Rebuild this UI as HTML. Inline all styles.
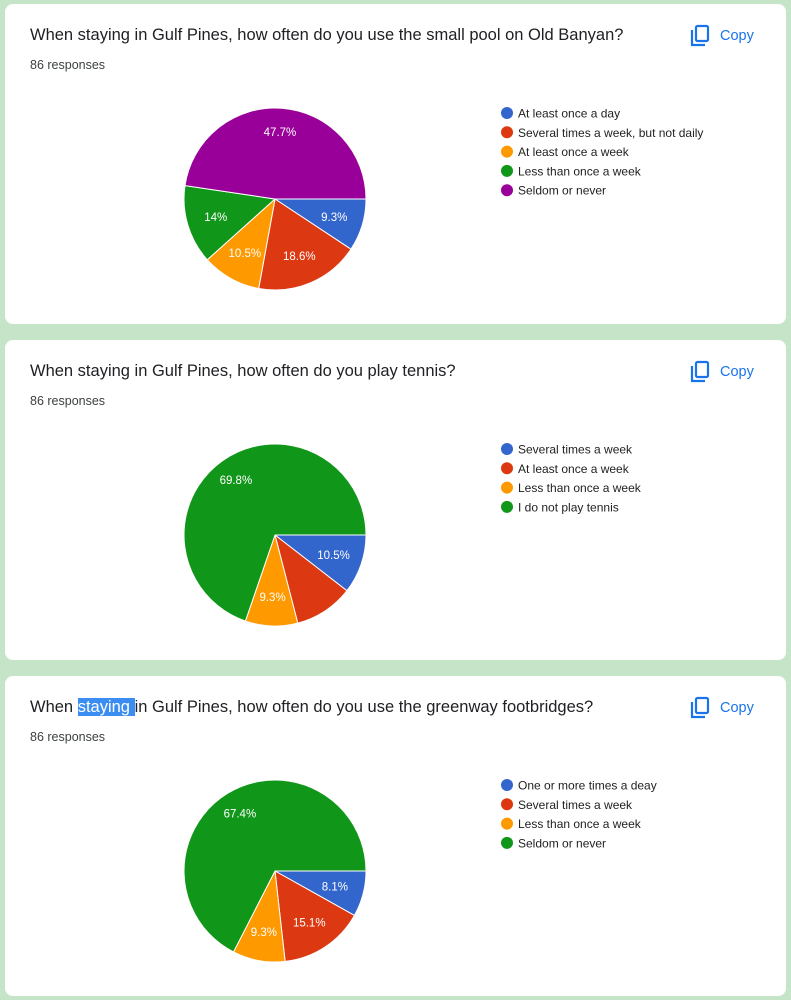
<!DOCTYPE html>
<html><head><meta charset="utf-8"><style>
body{margin:0;width:791px;height:1000px;background:#c6e5c8;font-family:"Liberation Sans",Arial,sans-serif;position:relative;overflow:hidden}
.card{position:absolute;left:5px;width:781px;height:320px;background:#fff;border-radius:8px}
.title{position:absolute;left:25px;top:22px;font-size:16.5px;color:#202124}
.resp{position:absolute;left:25px;top:54px;font-size:12.5px;color:#3c4043}
.copy{position:absolute;left:685px;top:20px;color:#1a73e8;font-size:14.5px;display:flex;align-items:center;gap:10px}
svg.chart{position:absolute;left:0;top:0}
.hl{background:#3b8df2;color:#fff}
</style></head><body>
<div class="card" style="top:4px">
<div class="title">When staying in Gulf Pines, how often do you use the small pool on Old Banyan?</div>
<div class="resp">86 responses</div>
<div class="copy"><svg width="20" height="24" viewBox="0 0 20 24"><path d="M2 6v15h13" fill="none" stroke="#1a73e8" stroke-width="2.2"/><rect x="6" y="2" width="12" height="15" rx="1.5" fill="none" stroke="#1a73e8" stroke-width="2.2"/></svg>Copy</div>
<svg class="chart" id="c0" width="781" height="320"></svg>
</div>
<div class="card" style="top:340px">
<div class="title">When staying in Gulf Pines, how often do you play tennis?</div>
<div class="resp">86 responses</div>
<div class="copy"><svg width="20" height="24" viewBox="0 0 20 24"><path d="M2 6v15h13" fill="none" stroke="#1a73e8" stroke-width="2.2"/><rect x="6" y="2" width="12" height="15" rx="1.5" fill="none" stroke="#1a73e8" stroke-width="2.2"/></svg>Copy</div>
<svg class="chart" id="c1" width="781" height="320"></svg>
</div>
<div class="card" style="top:676px">
<div class="title">When <span class="hl">staying </span>in Gulf Pines, how often do you use the greenway footbridges?</div>
<div class="resp">86 responses</div>
<div class="copy"><svg width="20" height="24" viewBox="0 0 20 24"><path d="M2 6v15h13" fill="none" stroke="#1a73e8" stroke-width="2.2"/><rect x="6" y="2" width="12" height="15" rx="1.5" fill="none" stroke="#1a73e8" stroke-width="2.2"/></svg>Copy</div>
<svg class="chart" id="c2" width="781" height="320"></svg>
</div>
<script>
const colors=["#3366cc","#dc3912","#ff9900","#109618","#990099"];
const poolCategories=["At least once a day","Several times a week, but not daily","At least once a week","Less than once a week","Seldom or never"];
const poolValues=[9.3,18.6,10.5,14,47.7];
const tennisCategories=["Several times a week","At least once a week","Less than once a week","I do not play tennis"];
const tennisValues=[10.5,10.5,9.3,69.8];
const tennisShowLabel=[true,false,true,true];
const bridgeCategories=["One or more times a deay","Several times a week","Less than once a week","Seldom or never"];
const bridgeValues=[8.1,15.1,9.3,67.4];
const NS="http://www.w3.org/2000/svg";
function draw(id,cats,vals,show){
  const svg=document.getElementById(id);
  const cx=270,cy=195,r=91;
  const total=vals.reduce((a,b)=>a+b,0);
  let a0=0;
  vals.forEach((v,i)=>{
    const a1=a0+v/total*2*Math.PI;
    const x0=cx+r*Math.cos(a0),y0=cy+r*Math.sin(a0),x1=cx+r*Math.cos(a1),y1=cy+r*Math.sin(a1);
    const p=document.createElementNS(NS,"path");
    p.setAttribute("d",`M${cx},${cy}L${x0},${y0}A${r},${r} 0 ${a1-a0>Math.PI?1:0} 1 ${x1},${y1}Z`);
    p.setAttribute("fill",colors[i]);p.setAttribute("stroke","#fff");p.setAttribute("stroke-width","1");
    
    
    svg.appendChild(p);
    if(!show||show[i]){
      const m=(a0+a1)/2,k=v>40?0.74:0.68;
      const t=document.createElementNS(NS,"text");
      t.setAttribute("x",cx+r*k*Math.cos(m));t.setAttribute("y",cy+r*k*Math.sin(m)+4);
      t.setAttribute("text-anchor","middle");t.setAttribute("fill","#fff");t.setAttribute("font-size","11.5");
      t.textContent=v+"%";
      
      
      svg.appendChild(t);
    }
    a0=a1;
  });
  cats.forEach((c,i)=>{
    const y=109+i*19.3;
    const d=document.createElementNS(NS,"circle");
    d.setAttribute("cx",502);d.setAttribute("cy",y);d.setAttribute("r",6);d.setAttribute("fill",colors[i]);
    
    
    svg.appendChild(d);
    const t=document.createElementNS(NS,"text");
    t.setAttribute("x",513);t.setAttribute("y",y+4.5);t.setAttribute("font-size","12");t.setAttribute("fill","#222");
    t.textContent=c;
    
    
    svg.appendChild(t);
  });
}
draw("c0",poolCategories,poolValues);
draw("c1",tennisCategories,tennisValues,tennisShowLabel);
draw("c2",bridgeCategories,bridgeValues);
</script>
</body></html>
